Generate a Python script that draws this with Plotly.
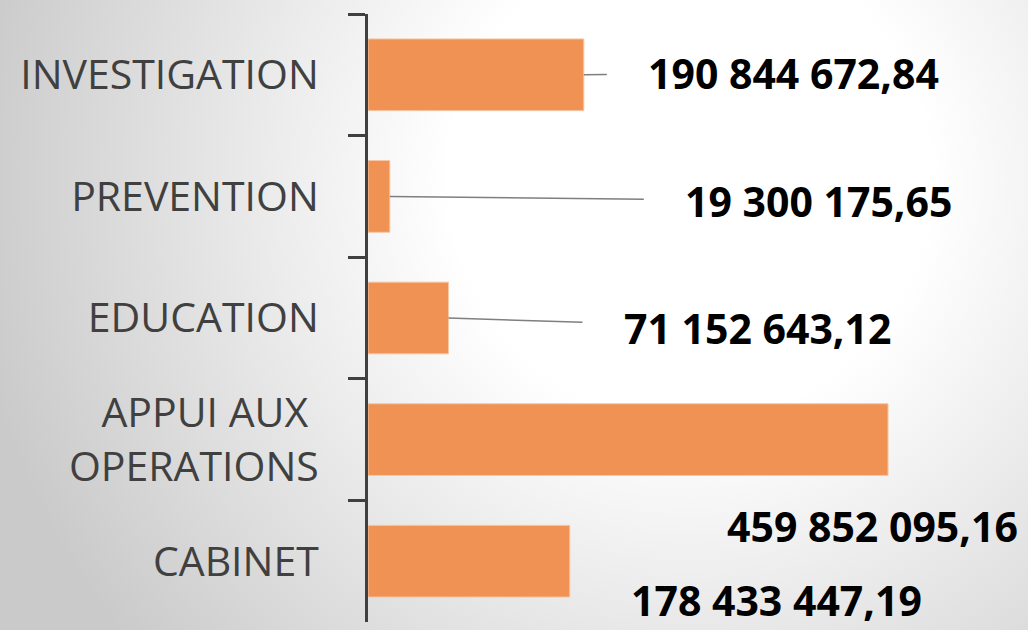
import base64
import plotly.graph_objects as go

# ---- data ----
categories = ["INVESTIGATION", "PREVENTION", "EDUCATION", "APPUI AUX\u00a0<br>OPERATIONS", "CABINET"]
values = [190844672.84, 19300175.65, 71152643.12, 459852095.16, 178433447.19]
value_labels = ["190 844 672,84", "19 300 175,65", "71 152 643,12", "459 852 095,16", "178 433 447,19"]

# ---- label placement styles (pixel offsets from bar end, dy positive = down) ----
label_offsets = [(210, -2, True), (429, 5, True), (309, 10, True), (-16, 86, False), (207, 39, False)]

W, H = 1028, 630
ML, MR, MT, MB = 368, 18, 14, 8

bar_color = "#EF9253"
axis_color = "#404040"

fig = go.Figure(
    go.Bar(
        x=values,
        y=categories,
        orientation="h",
        marker=dict(color=bar_color, line=dict(color="#F6C7A6", width=1)),
        hoverinfo="skip",
    )
)

label_font = dict(family="Open Sans", size=41, color="#000000", weight="bold")
annotations = []
for cat, val, lab, (dx, dy, arrow) in zip(categories, values, value_labels, label_offsets):
    if arrow:
        annotations.append(dict(
            x=val, y=cat, xref="x", yref="y", text=lab,
            showarrow=True, arrowhead=0, arrowwidth=1.5, arrowcolor="#7F7F7F",
            ax=dx, ay=dy, startstandoff=40, standoff=0, font=label_font,
        ))
    else:
        annotations.append(dict(
            x=val, y=cat, xref="x", yref="y", text=lab,
            showarrow=False, xshift=dx, yshift=-dy, xanchor="center", yanchor="middle",
            font=label_font,
        ))

# background radial gradient as an inline SVG image
svg = (
    f'<svg xmlns="http://www.w3.org/2000/svg" width="{W}" height="{H}" viewBox="0 0 {W} {H}">'
    '<defs><radialGradient id="g" gradientUnits="userSpaceOnUse" cx="690" cy="180" r="730">'
    '<stop offset="0" stop-color="#ffffff"/><stop offset="0.33" stop-color="#ffffff"/>'
    '<stop offset="1" stop-color="#cacaca"/></radialGradient></defs>'
    f'<rect width="{W}" height="{H}" fill="url(#g)"/></svg>'
)
src = "data:image/svg+xml;base64," + base64.b64encode(svg.encode()).decode()
pw = W - ML - MR
ph = H - MT - MB

fig.update_layout(
    width=W, height=H,
    margin=dict(l=ML, r=MR, t=MT, b=MB, pad=0),
    paper_bgcolor="#d8d8d8",
    plot_bgcolor="rgba(0,0,0,0)",
    showlegend=False,
    bargap=0.41,
    images=[dict(
        source=src, xref="paper", yref="paper",
        x=-ML / pw, y=1 + MT / ph, sizex=W / pw, sizey=H / ph,
        sizing="stretch", layer="below", xanchor="left", yanchor="top",
    )],
    xaxis=dict(visible=False, range=[0, 567.7e6], fixedrange=True),
    yaxis=dict(
        type="category", categoryorder="array", categoryarray=categories,
        range=[4.5, -0.5], fixedrange=True,
        showline=True, linecolor=axis_color, linewidth=3,
        ticks="outside", ticklen=17, tickwidth=3, tickcolor=axis_color,
        tickson="boundaries", showgrid=False, zeroline=False,
        tickfont=dict(family="Open Sans", size=41, color=axis_color),
        ticklabelstandoff=38,
    ),
    annotations=annotations,
)

fig.write_html(
    "out.html",
    config={"displayModeBar": False},
    post_script="document.body.style.margin='0';document.body.style.overflow='hidden';",
)
